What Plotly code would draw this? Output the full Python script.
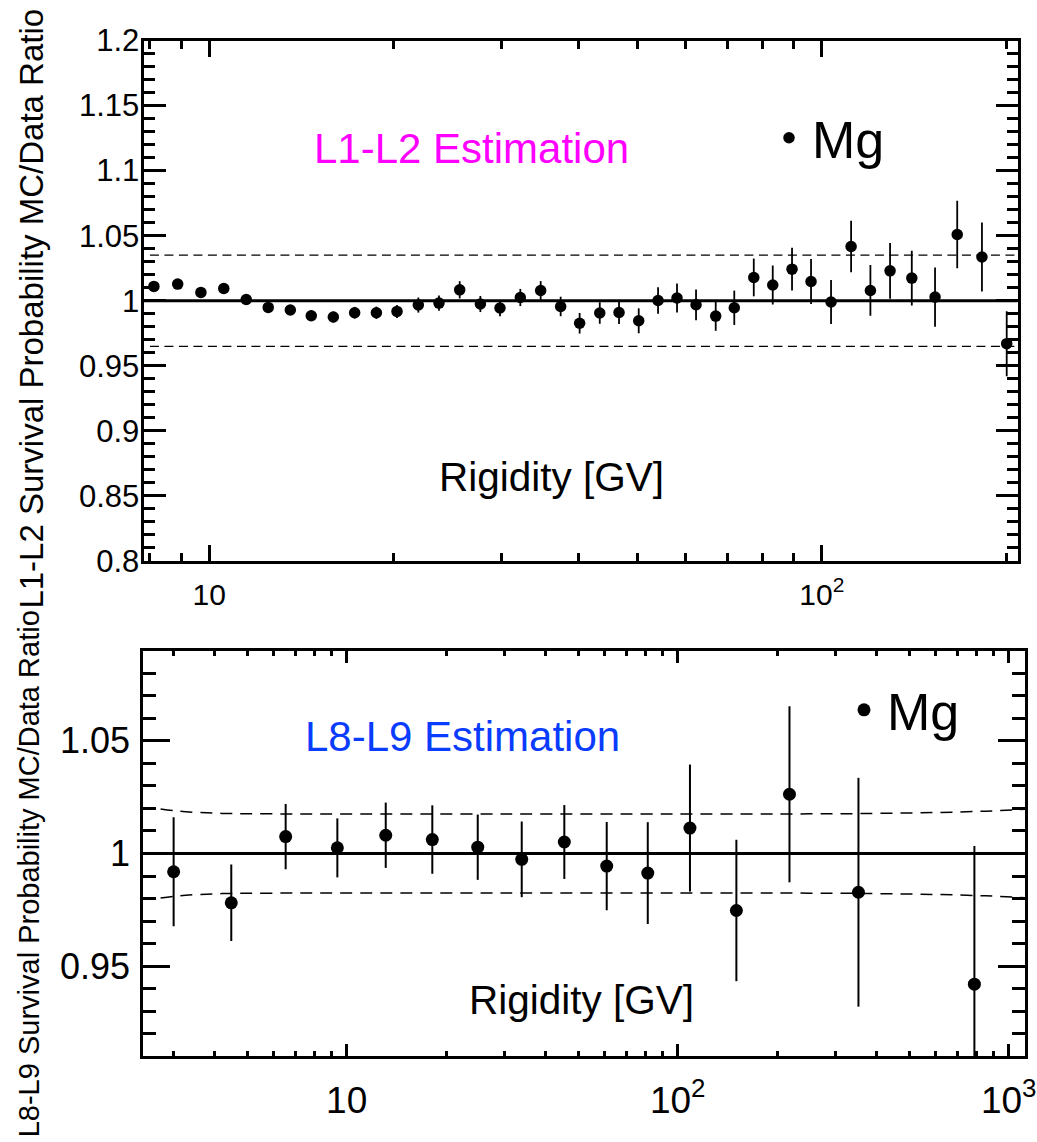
import plotly.graph_objects as go

# ---------------- L1-L2 survival probability, MC/Data ratio (Mg) ----------------
l12_rigidity = [8.12, 8.88, 9.69, 10.56, 11.49, 12.48, 13.56, 14.67, 15.94, 17.27,
                18.74, 20.25, 21.94, 23.71, 25.63, 27.70, 29.82, 32.19, 34.75, 37.46,
                40.23, 43.39, 46.65, 50.23, 54.02, 58.01, 62.31, 67.09, 71.94, 77.41,
                83.13, 89.38, 96.0, 103.5, 111.6, 120.0, 129.2, 140.2, 153.0, 166.3,
                182.5, 200.3]
l12_ratio = [1.0110, 1.0128, 1.0064, 1.0094, 1.0010, 0.9949, 0.9929, 0.9885, 0.9875, 0.9908,
             0.9908, 0.9918, 0.9967, 0.9982, 1.0084, 0.9975, 0.9944, 1.0025, 1.0079, 0.9956,
             0.9827, 0.9906, 0.9910, 0.9846, 1.0002, 1.0021, 0.9969, 0.9882, 0.9946, 1.0179,
             1.0121, 1.0243, 1.0148, 0.9990, 1.0417, 1.0079, 1.0230, 1.0174, 1.0028, 1.0509,
             1.0336, 0.9670]
l12_err = [0.0025, 0.0025, 0.0025, 0.0028, 0.0030, 0.0035, 0.0038, 0.0040, 0.0042, 0.0045,
           0.0047, 0.0050, 0.0058, 0.0058, 0.0066, 0.0062, 0.0063, 0.0066, 0.0072, 0.0075,
           0.0079, 0.0083, 0.0088, 0.0096, 0.0102, 0.0111, 0.0118, 0.0113, 0.0132, 0.0145,
           0.0150, 0.0164, 0.0173, 0.0169, 0.0198, 0.0195, 0.0214, 0.0210, 0.0228, 0.0260,
           0.0265, 0.0250]
l12_band_rigidity = [8.0, 210.0]
l12_band_halfwidth = [0.035, 0.035]

# ---------------- L8-L9 survival probability, MC/Data ratio (Mg) ----------------
l89_rigidity = [3.00, 4.48, 6.54, 9.37, 13.12, 18.14, 24.88, 33.79, 45.44, 61.03,
                81.2, 108.9, 150.4, 217.6, 351.6, 787.6]
l89_ratio = [0.9919, 0.9781, 1.0075, 1.0025, 1.0081, 1.0062, 1.0028, 0.9974, 1.0051, 0.9944,
             0.9913, 1.0113, 0.9747, 1.0263, 0.9828, 0.9420]
l89_err = [0.0242, 0.0170, 0.0145, 0.0131, 0.0145, 0.0152, 0.0145, 0.0168, 0.0164, 0.0196,
           0.0226, 0.0282, 0.0314, 0.0391, 0.0508, 0.0613]
l89_band_rigidity = [2.74, 3.1, 3.6, 4.2, 6.0, 10.0, 30.0, 100.0, 250.0, 400.0, 600.0, 850.0, 1140.0]
l89_band_halfwidth = [0.0198, 0.0188, 0.0182, 0.0178, 0.0176, 0.0175, 0.0175, 0.0175,
                      0.0176, 0.0178, 0.0182, 0.0188, 0.0197]

# axis labels
l12_ytick_vals = [0.8, 0.85, 0.9, 0.95, 1.0, 1.05, 1.1, 1.15, 1.2]
l12_ytick_text = ["0.8", "0.85", "0.9", "0.95", "1", "1.05", "1.1", "1.15", "1.2"]
l12_xtick_vals = [10, 100]
l12_xtick_text = ["10", "10<sup>2</sup>"]
l12_xminor = [8, 9, 20, 30, 40, 50, 60, 70, 80, 90, 200]

l89_ytick_vals = [0.95, 1.0, 1.05]
l89_ytick_text = ["0.95", "1", "1.05"]
l89_xtick_vals = [10, 100, 1000]
l89_xtick_text = ["10", "10<sup>2</sup>", "10<sup>3</sup>"]
l89_xminor = [3, 4, 5, 6, 7, 8, 9, 20, 30, 40, 50, 60, 70, 80, 90,
              200, 300, 400, 500, 600, 700, 800, 900]

W, H = 1037, 1142
FONT = "Liberation Sans, Arial, Helvetica, sans-serif"


def px(p):
    return p / W


def py(p):
    return 1 - p / H


TOP_XRANGE = [0.8926, 2.3193]
BOT_XRANGE = [0.3852, 3.0492]

fig = go.Figure()

# ---- upper panel ----
fig.add_trace(go.Scatter(
    x=[10 ** TOP_XRANGE[0], 10 ** TOP_XRANGE[1]], y=[1.0, 1.0], mode="lines",
    line=dict(color="black", width=3), showlegend=False, hoverinfo="skip",
    xaxis="x", yaxis="y"))
for sign in (1, -1):
    fig.add_trace(go.Scatter(
        x=l12_band_rigidity, y=[1 + sign * h for h in l12_band_halfwidth], mode="lines",
        line=dict(color="black", width=1.3, dash="9px,5.5px"), showlegend=False,
        hoverinfo="skip", xaxis="x", yaxis="y"))
fig.add_trace(go.Scatter(
    x=l12_rigidity, y=l12_ratio, mode="markers", name="Mg",
    marker=dict(color="black", size=11.5),
    error_y=dict(type="data", array=l12_err, width=0, thickness=1.8, color="black"),
    xaxis="x", yaxis="y", legend="legend"))

# ---- lower panel ----
fig.add_trace(go.Scatter(
    x=[10 ** BOT_XRANGE[0], 10 ** BOT_XRANGE[1]], y=[1.0, 1.0], mode="lines",
    line=dict(color="black", width=3), showlegend=False, hoverinfo="skip",
    xaxis="x2", yaxis="y2"))
for sign in (1, -1):
    fig.add_trace(go.Scatter(
        x=l89_band_rigidity, y=[1 + sign * h for h in l89_band_halfwidth], mode="lines",
        line=dict(color="black", width=1.5, dash="12px,8px", shape="spline"), showlegend=False,
        hoverinfo="skip", xaxis="x2", yaxis="y2"))
fig.add_trace(go.Scatter(
    x=l89_rigidity, y=l89_ratio, mode="markers", name="Mg",
    marker=dict(color="black", size=13),
    error_y=dict(type="data", array=l89_err, width=0, thickness=2, color="black"),
    xaxis="x2", yaxis="y2", legend="legend2"))

frame = dict(showline=True, linewidth=3, linecolor="black", mirror="allticks",
             ticks="inside", tickcolor="black", showgrid=False, zeroline=False,
             automargin=False)

fig.update_layout(
    width=W, height=H,
    margin=dict(l=0, r=0, t=0, b=0, pad=0, autoexpand=False),
    paper_bgcolor="white", plot_bgcolor="white",
    font=dict(family=FONT, color="black"),
    xaxis=dict(type="log", domain=[px(143.5), px(1017.5)], range=TOP_XRANGE, anchor="y",
               tickvals=l12_xtick_vals, ticktext=l12_xtick_text, ticklen=16, tickwidth=2.5,
               tickfont=dict(size=30, family=FONT, color="black"), ticklabelstandoff=5,
               minor=dict(tickvals=l12_xminor, ticks="inside", ticklen=8, tickwidth=2.5,
                          tickcolor="black", showgrid=False),
               **frame),
    yaxis=dict(domain=[py(561), py(40.5)], range=[0.8, 1.2], anchor="x",
               tickvals=l12_ytick_vals, ticktext=l12_ytick_text, ticklen=22, tickwidth=2.5,
               tickfont=dict(size=31, family=FONT, color="black"), ticklabelstandoff=-5,
               minor=dict(tick0=0.8, dtick=0.01, ticks="inside", ticklen=11, tickwidth=2.5,
                          tickcolor="black", showgrid=False),
               **frame),
    xaxis2=dict(type="log", domain=[px(143.2), px(1025)], range=BOT_XRANGE, anchor="y2",
                tickvals=l89_xtick_vals, ticktext=l89_xtick_text, ticklen=12, tickwidth=2.5,
                tickfont=dict(size=37, family=FONT, color="black"), ticklabelstandoff=9,
                minor=dict(tickvals=l89_xminor, ticks="inside", ticklen=5, tickwidth=2.5,
                           tickcolor="black", showgrid=False),
                **frame),
    yaxis2=dict(domain=[py(1056.2), py(650.8)], range=[0.91, 1.09], anchor="x2",
                tickvals=l89_ytick_vals, ticktext=l89_ytick_text, ticklen=27, tickwidth=2.5,
                tickfont=dict(size=36, family=FONT, color="black"), ticklabelstandoff=3,
                minor=dict(tick0=0.91, dtick=0.01, ticks="inside", ticklen=13, tickwidth=2.5,
                           tickcolor="black", showgrid=False),
                **frame),
    legend=dict(x=px(766), y=py(138), xanchor="left", yanchor="middle",
                bgcolor="rgba(0,0,0,0)", font=dict(size=52, family=FONT, color="black"),
                itemwidth=36, tracegroupgap=0),
    legend2=dict(x=px(841), y=py(710), xanchor="left", yanchor="middle",
                 bgcolor="rgba(0,0,0,0)", font=dict(size=52, family=FONT, color="black"),
                 itemwidth=36, tracegroupgap=0),
)

annotations = [
    dict(text="L1-L2 Estimation", x=px(471), y=py(148), font=dict(size=42, color="#FF00FF")),
    dict(text="Rigidity [GV]", x=px(551), y=py(477), font=dict(size=40.5, color="black")),
    dict(text="L8-L9 Estimation", x=px(462), y=py(736), font=dict(size=42, color="#0A3CFF")),
    dict(text="Rigidity [GV]", x=px(581), y=py(1000), font=dict(size=40.5, color="black")),
    dict(text="L1-L2 Survival Probability MC/Data Ratio", x=px(31.6), y=py(309),
         textangle=-90, font=dict(size=33, color="black")),
    dict(text="L8-L9 Survival Probability MC/Data Ratio", x=px(29.3), y=py(874),
         textangle=-90, font=dict(size=29, color="black")),
    dict(text="1", x=px(1033), y=py(1150), font=dict(size=24, color="#9a9a9a")),
]
for a in annotations:
    a.update(xref="paper", yref="paper", xanchor="center", yanchor="middle",
             showarrow=False)
    a["font"]["family"] = FONT
fig.update_layout(annotations=annotations)

fig.write_html("out.html")
